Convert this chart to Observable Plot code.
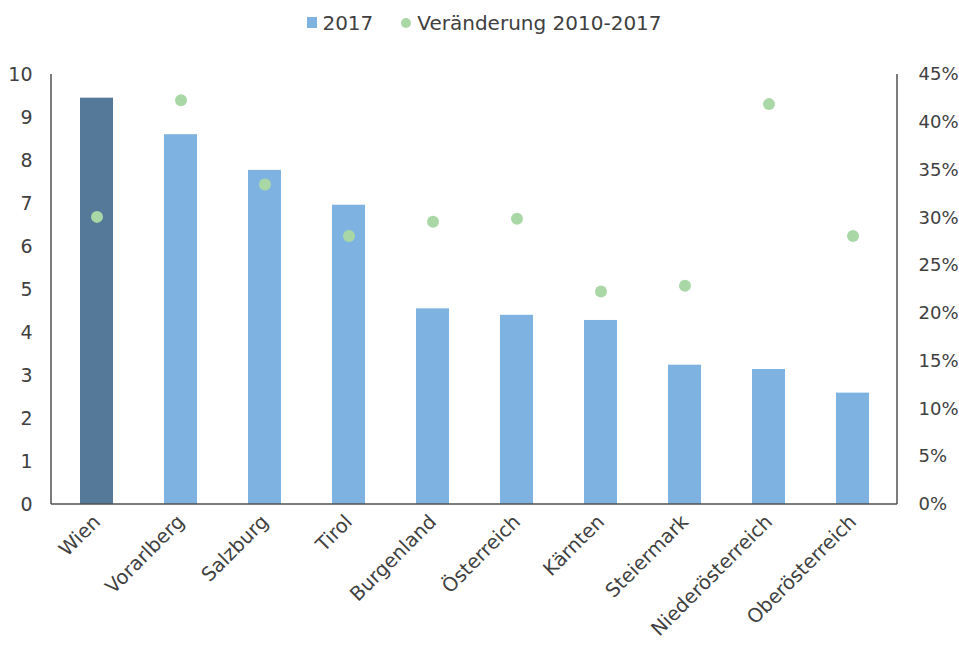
<!DOCTYPE html>
<html><head><meta charset="utf-8">
<script src="https://cdn.jsdelivr.net/npm/d3@7"></script>
<script src="https://cdn.jsdelivr.net/npm/@observablehq/plot@0.6"></script>
<style>
body{margin:0;background:#fff;font-family:"DejaVu Sans",sans-serif;color:#404040;}
#legend{height:45px;display:flex;justify-content:center;align-items:center;font-size:20px;padding-left:10px;box-sizing:border-box;}
#legend .item{display:flex;align-items:center;margin:0 14px;}
#legend .sq{width:10px;height:11px;background:#7EB2E0;margin-right:5px;}
#legend .dot{width:10px;height:10px;border-radius:50%;background:#A9D8A6;margin-right:6px;}
</style></head><body>
<div id="legend"></div>
<div id="chart"></div>
<script>
const regions = ["Wien","Vorarlberg","Salzburg","Tirol","Burgenland","Österreich","Kärnten","Steiermark","Niederösterreich","Oberösterreich"];
const values2017 = [9.45, 8.6, 7.77, 6.96, 4.55, 4.4, 4.28, 3.24, 3.14, 2.59];
const change20102017 = [30.1, 42.3, 33.5, 28.1, 29.6, 29.9, 22.3, 22.9, 41.9, 28.1];
const leftTicks = [0,1,2,3,4,5,6,7,8,9,10];
const rightTicks = [0,5,10,15,20,25,30,35,40,45];
const legendLabels = ["2017","Veränderung 2010-2017"];

const DARK = "#557A99", LIGHT = "#7EB2E0", GREEN = "#A9D8A6", INK = "#404040";
const RATIO = 10/45;

const data = regions.map((r,i)=>({region:r, value:values2017[i], change:change20102017[i]}));

document.getElementById("legend").innerHTML =
  `<div class="item"><span class="sq"></span>${legendLabels[0]}</div>` +
  `<div class="item"><span class="dot"></span>${legendLabels[1]}</div>`;

const chart = Plot.plot({
  width: 959, height: 605,
  marginTop: 29, marginBottom: 146, marginLeft: 51, marginRight: 62,
  style: {fontFamily: '"DejaVu Sans", sans-serif', fontSize: "18px", color: INK, background: "#fff"},
  x: {domain: regions, paddingInner: 0.61, paddingOuter: 0.305, label: null},
  y: {domain: [0,10], label: null},
  marks: [
    Plot.barY(data, {x: "region", y: "value", fill: d => d.region === "Wien" ? DARK : LIGHT}),
    Plot.dot(data, {x: "region", y: d => d.change * RATIO, r: 6, fill: GREEN, stroke: null}),
    Plot.axisX({tickSize: 0, tickPadding: 14, tickRotate: -45, fontSize: 19.5, label: null}),
    Plot.axisY({anchor: "left", ticks: leftTicks, tickSize: 0, tickPadding: 19, fontSize: 19, label: null}),
    Plot.axisY({anchor: "right", ticks: rightTicks.map(t => t * RATIO), tickFormat: d => Math.round(d / RATIO) + "%", tickSize: 0, tickPadding: 21, fontSize: 18, label: null, textAnchor: "start"})
  ]
});
document.getElementById("chart").appendChild(chart);

// axis lines (left, right, bottom) drawn via the chart's own scales
const ys = chart.scale("y");
const y0 = ys.apply(0), y1 = ys.apply(10);
const xl = 51, xr = 959 - 62;
const svg = d3.select(chart);
const g = svg.append("g").attr("stroke", "#505050").attr("stroke-width", 1.5);
g.append("line").attr("x1", xl).attr("x2", xl).attr("y1", y0).attr("y2", y1);
g.append("line").attr("x1", xr).attr("x2", xr).attr("y1", y0).attr("y2", y1);
g.append("line").attr("x1", xl).attr("x2", xr).attr("y1", y0).attr("y2", y0);
</script>
</body></html>
